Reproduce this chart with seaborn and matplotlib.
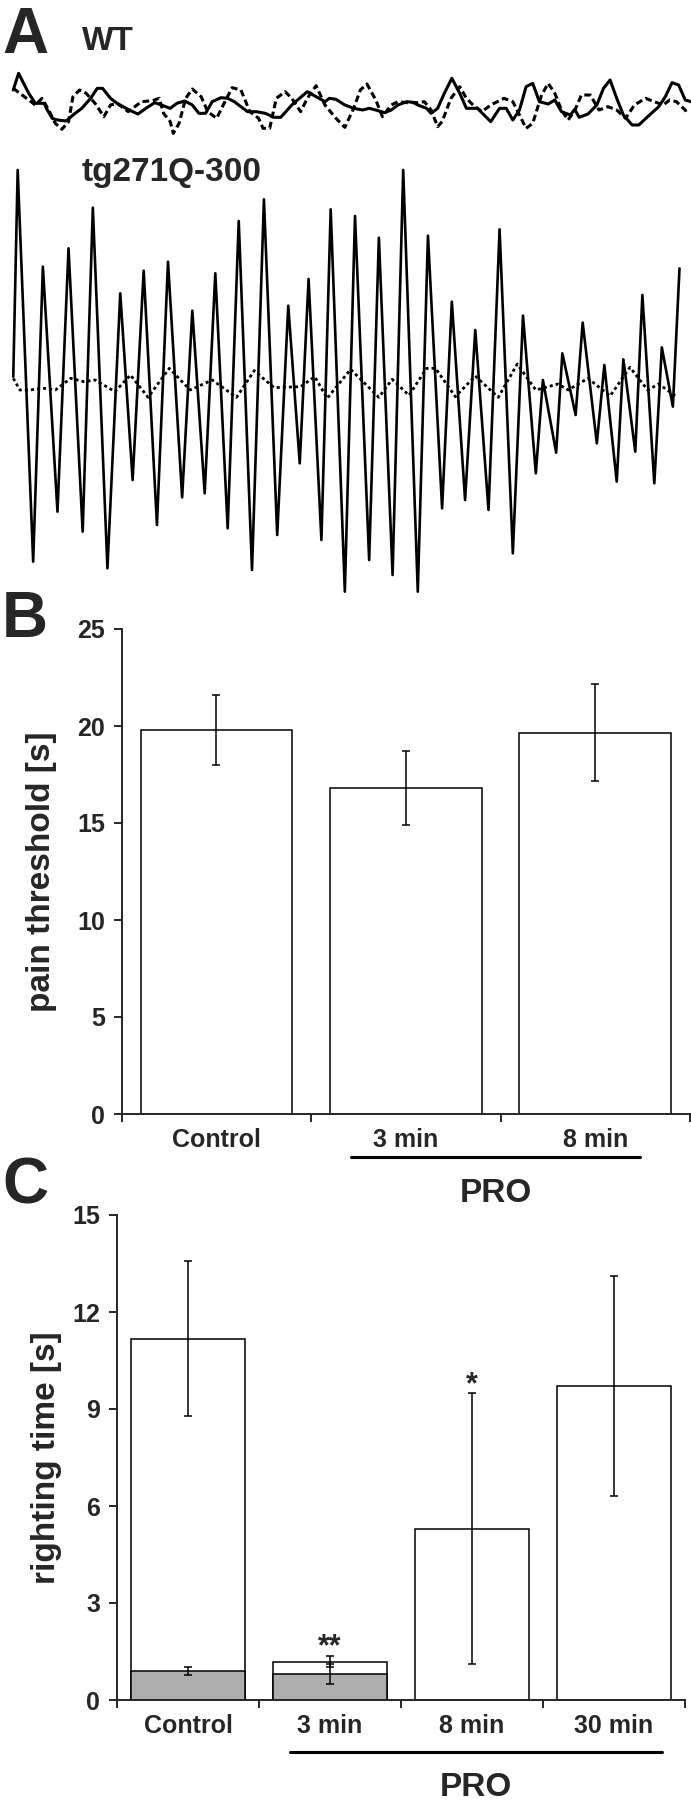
import numpy as np
import pandas as pd
import seaborn as sns
import matplotlib.pyplot as plt
import matplotlib.transforms as mtransforms

# ---- panel A: traces (time / amplitude, arbitrary units) ----
wt_t = [30, 42, 65, 80, 100, 105, 118, 130, 150, 165, 185, 205, 220, 232, 250,
        265, 285, 300, 312, 330, 350, 365, 385, 400, 418, 435, 450, 465, 480,
        500, 515, 530, 560, 580, 600, 620, 635, 660, 695, 715, 735, 745, 760,
        780, 800, 820, 835, 850, 870, 885, 900, 920, 935, 945, 965, 975, 990,
        1005, 1022, 1040, 1055, 1080, 1095, 1110, 1130, 1145, 1160, 1175, 1190,
        1205, 1220, 1240, 1255, 1270, 1290, 1300, 1310, 1330, 1350, 1365, 1380,
        1395, 1410, 1430, 1445, 1465, 1490, 1505, 1520, 1535, 1550, 1563]
wt_solid = [5.0, 10.0, 4.0, 1.0, 1.0, -0.5, -3.5, -4.0, -4.3, -2.5, -0.5, 2.5,
            5.5, 5.5, 2.5, 1.0, -0.5, -1.5, -2.2, -0.5, 1.2, 0.5, -0.5, 1.0,
            1.7, 0.5, -2.0, -2.0, 1.5, 2.7, 2.5, 1.5, -1.5, -1.5, -2.0, -3.2,
            -3.2, 0.5, 4.5, 3.0, 1.5, 2.5, 2.2, 0.5, -0.5, -1.0, -0.5, -1.0,
            -1.8, -1.0, 0.5, 1.5, 1.3, 0.5, -0.5, -2.0, -0.5, 4.0, 8.5, 4.0,
            -0.5, -0.5, -2.5, -4.5, -0.5, -0.5, -4.0, -1.0, 6.0, 7.0, 1.5, 0.8,
            2.0, -1.5, -2.5, -0.8, -3.2, -2.2, 0.5, 5.5, 8.0, 2.5, -2.5, -5.5,
            -5.5, -3.0, 0.0, 3.0, 7.2, 6.5, 2.0, 1.5]

wt2_t = [30, 55, 80, 95, 110, 125, 140, 155, 165, 180, 195, 215, 235, 250, 265,
         290, 305, 320, 345, 360, 370, 385, 392, 405, 420, 435, 455, 470, 490,
         505, 525, 545, 565, 585, 595, 610, 625, 645, 660, 680, 695, 715, 735,
         760, 780, 800, 815, 830, 850, 865, 885, 900, 920, 945, 960, 975, 990,
         1000, 1020, 1040, 1055, 1070, 1090, 1110, 1140, 1160, 1175, 1190, 1205,
         1225, 1240, 1255, 1270, 1285, 1300, 1315, 1335, 1355, 1375, 1395, 1415,
         1435, 1460, 1480, 1500, 1515, 1530, 1550, 1555]
wt_dashed = [5.5, 3.0, 0.5, 2.5, -1.0, -5.0, -6.8, -4.5, 3.0, 5.0, 4.0, 1.0,
             -3.0, 0.5, 1.0, -1.5, 0.0, 1.5, 1.8, 2.5, -2.0, -4.5, -8.0, -5.0,
             2.5, 5.3, 3.0, -1.5, -3.5, 0.5, 5.7, 5.0, -1.5, -3.5, -6.5, -6.5,
             2.5, 4.5, 2.5, -1.5, 2.5, 6.3, 0.5, -3.5, -6.2, -0.5, 5.0, 6.8,
             2.0, -3.0, 0.5, 1.5, 1.2, 1.2, 1.5, -1.0, -6.0, -4.5, 2.5, 6.0,
             2.5, 0.5, -1.5, 0.5, 2.5, 1.5, -2.5, -6.5, -5.0, 3.5, 7.0, 4.0,
             -1.0, -4.0, -1.2, 3.5, 3.5, -1.0, 0.0, -1.0, -3.5, 0.5, 2.5, 1.5,
             0.5, 2.0, 1.5, -1.0, -2.5]

tg_t = [30, 40, 75, 97, 130, 155, 187, 210, 243, 272, 300, 325, 355, 380, 412,
        435, 463, 487, 515, 540, 570, 597, 627, 652, 678, 698, 727, 748, 780,
        803, 835, 857, 888, 912, 945, 968, 1000, 1022, 1052, 1075, 1105, 1130,
        1160, 1183, 1212, 1228, 1258, 1272, 1302, 1318, 1350, 1367, 1395, 1410,
        1437, 1453, 1480, 1497, 1522, 1537]
tg_solid = [0.2, 6.4, -5.35, 3.5, -3.85, 4.05, -4.45, 5.27, -5.55, 2.7, -2.9,
            3.38, -4.25, 3.65, -3.42, 2.18, -3.3, 3.3, -4.35, 4.87, -5.6, 5.52,
            -4.55, 2.33, -2.4, 3.13, -4.7, 5.22, -6.25, 5.02, -5.3, 4.37, -5.75,
            6.4, -6.25, 4.43, -3.75, 2.45, -3.5, 1.6, -3.8, 4.62, -5.1, 2.03,
            -2.7, 0.1, -2.08, 0.9, -0.95, 1.82, -1.8, 0.55, -2.95, 0.72, -2.05,
            2.65, -3.0, 1.08, -0.7, 3.45]

tg2_t = [30, 45, 65, 100, 125, 160, 190, 215, 260, 295, 335, 383, 430, 480, 535,
         575, 620, 680, 712, 740, 793, 857, 887, 925, 965, 985, 1030, 1075, 1127,
         1170, 1212, 1262, 1285, 1330, 1380, 1425, 1465, 1490, 1530]
tg_dotted = [0.15, -0.2, -0.2, -0.15, -0.2, 0.15, 0.05, 0.1, -0.25, 0.25, -0.42,
             0.45, -0.2, 0.1, -0.42, 0.38, -0.13, -0.1, 0.2, -0.45, 0.42, -0.42,
             0.12, -0.36, 0.45, 0.45, -0.4, 0.22, -0.42, 0.58, -0.2, -0.02, -0.2,
             0.15, -0.38, 0.48, -0.2, -0.02, -0.4]

# ---- panel B: pain threshold ----
b_groups = ['Control', '3 min', '8 min']
b_mean = [19.8, 16.8, 19.65]
b_err = [1.8, 1.9, 2.5]

# ---- panel C: righting time ----
c_groups = ['Control', '3 min', '8 min', '30 min']
c_mean = [11.18, 1.19, 5.3, 9.7]
c_err = [2.4, 0.18, 4.2, 3.4]
c_gray_groups = ['Control', '3 min']
c_gray_mean = [0.89, 0.79]
c_gray_err = [0.12, 0.31]

sns.set_style('ticks')
plt.rcParams['font.family'] = ['Liberation Sans', 'DejaVu Sans']
plt.rcParams['font.weight'] = 'bold'
plt.rcParams['axes.labelweight'] = 'bold'

W, H = 691, 1800
fig = plt.figure(figsize=(W / 100, H / 100), dpi=100)


def rect(x0, y0, x1, y1):
    # pixel box (top-left origin) -> figure fraction
    return [x0 / W, 1 - y1 / H, (x1 - x0) / W, (y1 - y0) / H]


# WT traces
ax_wt = fig.add_axes(rect(0, 40, W, 140))
sns.lineplot(x=wt_t, y=wt_solid, ax=ax_wt, color='black', linewidth=2.2,
             sort=False, estimator=None)
sns.lineplot(x=wt2_t, y=wt_dashed, ax=ax_wt, color='black', linewidth=2.2,
             linestyle=(0, (2.2, 1.2)), sort=False, estimator=None)
ax_wt.set_xlim(0, 1563)
ax_wt.set_ylim(-10, 20)
ax_wt.axis('off')

# tg271Q-300 traces
ax_tg = fig.add_axes(rect(0, 160, W, 610))
sns.lineplot(x=tg_t, y=tg_solid, ax=ax_tg, color='black', linewidth=1.9,
             sort=False, estimator=None)
sns.lineplot(x=tg2_t, y=tg_dotted, ax=ax_tg, color='black', linewidth=2.0,
             linestyle=(0, (1.1, 1.1)), sort=False, estimator=None)
ax_tg.set_xlim(0, 1563)
ax_tg.set_ylim(-6.8, 6.7)
ax_tg.axis('off')


def bar_panel(ax, groups, mean, err, ymax, step, ylabel, label_x):
    df = pd.DataFrame({'group': groups, 'value': mean})
    sns.barplot(data=df, x='group', y='value', order=groups, color='white',
                saturation=1, edgecolor='black', linewidth=1.1, width=0.8,
                errorbar=None, ax=ax)
    ax.errorbar(np.arange(len(groups)), mean, yerr=err, fmt='none',
                ecolor='black', elinewidth=1.1, capsize=3, capthick=1.1)
    n = len(groups)
    ax.set_xlim(-0.5, n - 0.5)
    ax.set_ylim(0, ymax)
    ax.set_yticks(np.arange(0, ymax + 1, step))
    ax.set_xticks(np.arange(n))
    ax.set_xticklabels(groups)
    ax.set_xticks(np.arange(n + 1) - 0.5, minor=True)
    ax.tick_params(axis='x', which='major', length=0, pad=10, labelsize=18)
    ax.tick_params(axis='x', which='minor', length=6, width=1.4)
    ax.tick_params(axis='y', length=6, width=1.4, pad=6, labelsize=18)
    for s in ['top', 'right']:
        ax.spines[s].set_visible(False)
    for s in ['left', 'bottom']:
        ax.spines[s].set_linewidth(1.4)
    ax.set_xlabel('')
    ax.set_ylabel(ylabel, fontsize=24, fontweight='bold')
    ax.yaxis.set_label_coords(label_x, 0.5)


def pro_bracket(ax, x0, x1, y_line, y_text):
    tr = mtransforms.blended_transform_factory(ax.transData, ax.transAxes)
    ax.plot([x0, x1], [y_line, y_line], transform=tr, clip_on=False,
            color='black', linewidth=2.2)
    ax.text((x0 + x1) / 2, y_text, 'PRO', transform=tr, ha='center',
            va='baseline', fontsize=24, fontweight='bold')


# panel B
ax_b = fig.add_axes(rect(121.6, 629, 690, 1114))
bar_panel(ax_b, b_groups, b_mean, b_err, 25, 5, 'pain threshold [s]', -0.114)
pro_bracket(ax_b, 0.71, 2.236, -0.089, -0.182)

# panel C
ax_c = fig.add_axes(rect(117, 1215, 685, 1700))
bar_panel(ax_c, c_groups, c_mean, c_err, 15, 3, 'righting time [s]', -0.097)
gray = pd.DataFrame({'group': c_gray_groups, 'value': c_gray_mean})
sns.barplot(data=gray, x='group', y='value', order=c_groups, color='#adadad',
            saturation=1, edgecolor='black', linewidth=1.1, width=0.8,
            errorbar=None, ax=ax_c)
ax_c.errorbar(np.arange(len(c_gray_groups)), c_gray_mean, yerr=c_gray_err,
              fmt='none', ecolor='black', elinewidth=1.1, capsize=3,
              capthick=1.1)
ax_c.set_xlabel('')
ax_c.set_ylabel('righting time [s]', fontsize=24, fontweight='bold')
ax_c.set_xlim(-0.5, len(c_groups) - 0.5)
pro_bracket(ax_c, 0.718, 3.34, -0.108, -0.198)

# significance marks
ax_c.text(1, c_mean[1] + c_err[1], '**', ha='center', va='baseline',
          fontsize=22, fontweight='bold')
ax_c.text(2, c_mean[2] + c_err[2], '*', ha='center', va='baseline',
          fontsize=22, fontweight='bold')

# panel letters and trace labels
for letter, base in [('A', 53), ('B', 637), ('C', 1204)]:
    fig.text(2 / W, 1 - base / H, letter, fontsize=46, fontweight='bold',
             va='baseline', ha='left')
fig.text(82 / W, 1 - 50 / H, 'WT', fontsize=24, fontweight='bold',
         va='baseline')
fig.text(82 / W, 1 - 181 / H, 'tg271Q-300', fontsize=24, fontweight='bold',
         va='baseline')

fig.savefig('out.png', dpi=100)
